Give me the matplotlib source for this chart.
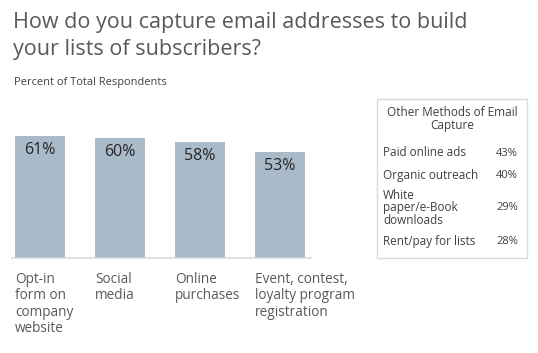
import matplotlib.pyplot as plt
from matplotlib.patches import Rectangle

plt.rcParams['font.family'] = ['Open Sans', 'DejaVu Sans']

# main bar chart data
categories = ["Opt-in\nform on\ncompany\nwebsite", "Social\nmedia", "Online\npurchases",
              "Event, contest,\nloyalty program\nregistration"]
values = [61, 60, 58, 53]

# side box data
other_methods = ["Paid online ads", "Organic outreach", "White\npaper/e-Book\ndownloads", "Rent/pay for lists"]
other_values = [43, 40, 29, 28]

title_lines = ["How do you capture email addresses to build", "your lists of subscribers?"]

W, H = 538, 353
fig = plt.figure(figsize=(W / 100, H / 100), dpi=100)
fig.patch.set_facecolor("white")

def px(x, y):
    # pixel coords (top-left origin) -> figure fraction
    return x / W, 1 - y / H

text_col = "#595959"
bar_col = "#A9BAC8"

# axes: baseline at y=258px, 2px per percent
x0, x1 = 12, 311
base = 258
ax = fig.add_axes([x0 / W, 1 - base / H, (x1 - x0) / W, 130 / H])
ax.bar(range(len(values)), values, width=0.625, color=bar_col)
ax.set_xlim(-0.35, 3.3875)
ax.set_ylim(0, 65)
for s in ["top", "right", "left"]:
    ax.spines[s].set_visible(False)
ax.spines["bottom"].set_color("#d9d9d9")
ax.spines["bottom"].set_linewidth(1.2)
ax.set_yticks([])
ax.set_xticks([])

for i, v in enumerate(values):
    ax.annotate(f"{v}%", xy=(i, v), xytext=(0, -10), textcoords="offset points",
                ha="center", va="center", fontsize=11.5, color="#262626")
    # category labels, left aligned at bar's left edge
    ax.annotate(categories[i], xy=(i - 0.3125, 0), xytext=(0, -10), textcoords="offset points",
                ha="left", va="top", fontsize=9.8, color=text_col, linespacing=1.13)

# title and subtitle
for line, y in zip(title_lines, [28, 55]):
    fig.text(*px(13, y), line, ha="left", va="baseline", fontsize=15.5, color=text_col)
fig.text(*px(14, 82), "Percent of Total Respondents", ha="left", va="center",
         fontsize=7.9, color="#404040")

# side box
bx0, by0, bx1, by1 = 377, 99, 527, 258
fig.patches.append(Rectangle(px(bx0, by1), (bx1 - bx0) / W, (by1 - by0) / H,
                             transform=fig.transFigure, fill=False,
                             edgecolor="#d9d9d9", linewidth=1))
fig.text(*px(452, 119), "Other Methods of Email\nCapture", ha="center", va="center",
         fontsize=8.5, color="#404040", linespacing=1.0)
row_y = [153, 175, 208, 242]
for name, v, y in zip(other_methods, other_values, row_y):
    fig.text(*px(383, y), name, ha="left", va="center", fontsize=8.5,
             color="#404040", linespacing=0.98)
    fig.text(*px(518, y), f"{v}%", ha="right", va="center", fontsize=8, color="#404040")

fig.savefig("out.png", dpi=100)
